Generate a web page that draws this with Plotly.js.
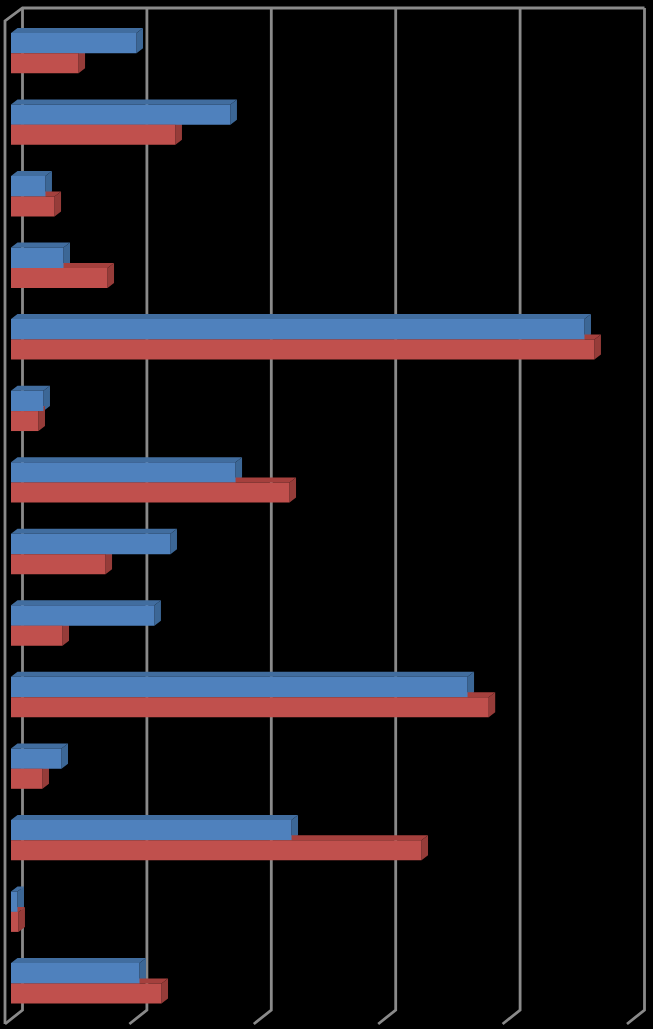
<!DOCTYPE html>
<html>
<head>
<meta charset="utf-8">
<style>html,body{margin:0;padding:0;background:#000;overflow:hidden}</style>
<script src="https://cdn.plot.ly/plotly-3.0.1.min.js"></script>
</head>
<body>
<div id="chart" style="width:653px;height:1029px"></div>
<script>
// Values (no labels in the reference, axis assumed 0-50 by 10)
const rows = [0,1,2,3,4,5,6,7,8,9,10,11,12,13];
const blueValues = [10.09,17.64,2.77,4.22,46.1,2.61,18.05,12.82,11.53,36.7,4.06,22.55,0.52,10.33];
const redValues  = [5.43,13.22,3.5,7.76,46.9,2.21,22.39,7.6,4.14,38.4,2.53,33.0,0.6,12.1];
const gridTicks = [0,10,20,30,40,50];

const W = 653, H = 1029;
const unitPx = 12.44, zeroPx = 11, rowPx = 71.55, row0Px = 53.3;
const xRange = [-zeroPx/unitPx, (W-zeroPx)/unitPx];
const yRange = [(H-row0Px)/rowPx, -row0Px/rowPx];
const dx = 6.5/unitPx, dy = 5/rowPx;
const blueH = 20.4/rowPx, redH = 20/rowPx;

const C = {blue:'#4f81bd', blueTop:'#416d9f', blueSide:'#3c6796',
           red:'#c0504d', redTop:'#a5403d', redSide:'#963c39', grid:'#8a8a8a'};

function poly(color, build){
  const x=[], y=[];
  rows.forEach(i=>{ build(i).forEach(p=>{x.push(p[0]);y.push(p[1]);}); x.push(null); y.push(null); });
  return {type:'scatter',mode:'lines',x,y,fill:'toself',fillcolor:color,
          line:{width:0,color:color},hoverinfo:'skip',showlegend:false,xaxis:'x',yaxis:'y'};
}
const topPoly = (vals,y0)=>i=>[[0,y0(i)],[vals[i],y0(i)],[vals[i]+dx,y0(i)-dy],[dx,y0(i)-dy]];
const sidePoly = (vals,y0,y1)=>i=>[[vals[i],y0(i)],[vals[i]+dx,y0(i)-dy],[vals[i]+dx,y1(i)-dy],[vals[i],y1(i)]];

const blueTopY = i=>rows[i]-blueH, blueBotY = i=>rows[i];
const redTopY = i=>rows[i], redBotY = i=>rows[i]+redH;

// Walls and gridlines, in axis units
const backDx = (22.5-zeroPx)/unitPx, frontDx = (5-zeroPx)/unitPx;
const backTop = (8-row0Px)/rowPx, backBot = (1010-row0Px)/rowPx, frontBot = (1024-row0Px)/rowPx, frontTop=(21-row0Px)/rowPx;
const gx=[], gy=[];
gridTicks.forEach(t=>{
  gx.push(t+backDx,t+backDx,t+frontDx,null);
  gy.push(backTop,backBot,frontBot,null);
});
gx.push(gridTicks[gridTicks.length-1]+backDx,backDx,frontDx,frontDx,null);
gy.push(backTop,backTop,frontTop,frontBot,null);

const traces = [
  {type:'scatter',mode:'lines',x:gx,y:gy,line:{color:C.grid,width:2.8},hoverinfo:'skip',showlegend:false,xaxis:'x',yaxis:'y'},
  poly(C.blueTop, topPoly(blueValues,blueTopY)),
  poly(C.blueSide, sidePoly(blueValues,blueTopY,blueBotY)),
  poly(C.redTop, topPoly(redValues,redTopY)),
  poly(C.redSide, sidePoly(redValues,redTopY,redBotY)),
  {type:'bar',orientation:'h',x:blueValues,y:rows,base:0,offset:-blueH,width:blueH,
   marker:{color:C.blue,line:{width:0}},xaxis:'x2',yaxis:'y2',showlegend:false,hoverinfo:'skip'},
  {type:'bar',orientation:'h',x:redValues,y:rows,base:0,offset:0,width:redH,
   marker:{color:C.red,line:{width:0}},xaxis:'x2',yaxis:'y2',showlegend:false,hoverinfo:'skip'}
];

const hiddenAxis = r=>({range:r,autorange:false,visible:false,fixedrange:true,domain:[0,1]});
const layout = {
  width:W,height:H,margin:{l:0,r:0,t:0,b:0,pad:0},
  paper_bgcolor:'#000',plot_bgcolor:'#000',showlegend:false,barmode:'overlay',
  xaxis:hiddenAxis(xRange), yaxis:hiddenAxis(yRange),
  xaxis2:Object.assign(hiddenAxis(xRange),{overlaying:'x',anchor:'y2'}),
  yaxis2:Object.assign(hiddenAxis(yRange),{overlaying:'y',anchor:'x2'})
};
Plotly.newPlot('chart',traces,layout,{displayModeBar:false,staticPlot:true});
</script>
</body>
</html>
